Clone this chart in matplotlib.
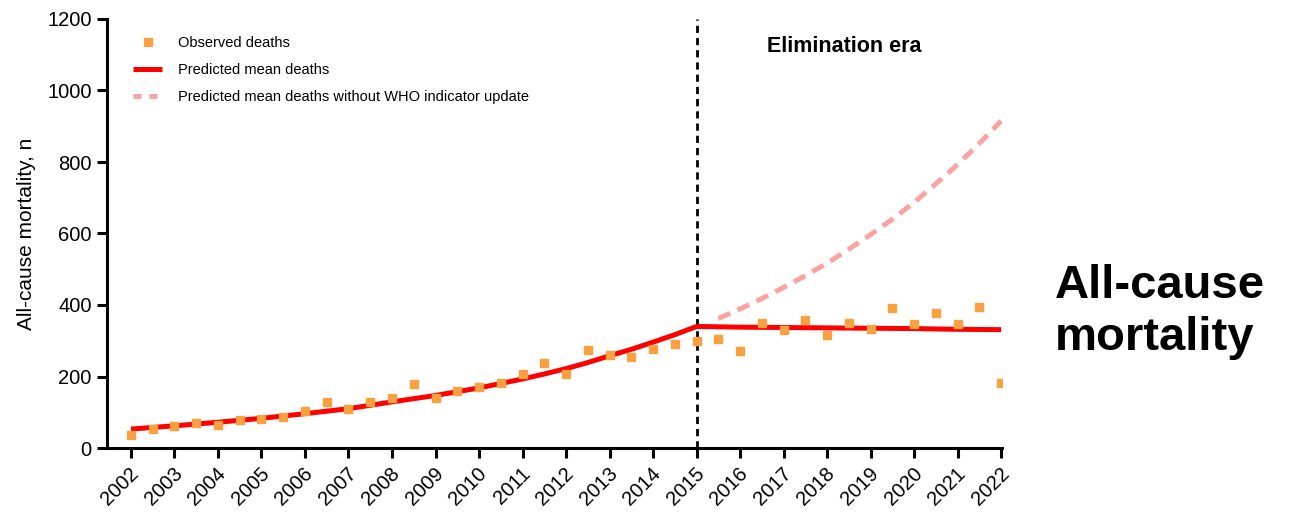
import numpy as np
import matplotlib
matplotlib.use("Agg")
import matplotlib.pyplot as plt
import matplotlib.transforms as mtransforms
from matplotlib.lines import Line2D

plt.rcParams['font.family'] = ['Liberation Sans', 'DejaVu Sans']

# observed deaths, half-yearly 2002.0 .. 2022.0
obs_years = np.arange(2002, 2022.5, 0.5)
observed = [36, 54, 62, 70, 65, 78, 80, 88, 104, 128,
            110, 128, 141, 179, 140, 160, 171, 183, 208, 239,
            208, 273, 260, 255, 277, 292, 300, 305, 270, 351,
            331, 358, 315, 350, 332, 391, 348, 378, 348, 394,
            181]

# predicted mean deaths before / after the 2015 break
pre_years = [2002, 2003, 2004, 2005, 2006, 2007, 2008, 2009, 2010,
             2011, 2011.5, 2012, 2012.5, 2013, 2013.5, 2014, 2014.5, 2015]
pred_pre = [53, 62, 72, 83, 96, 110, 129, 147, 168,
            193, 207, 222, 239, 258, 276, 296, 317, 340]
post_years = list(range(2015, 2023))
pred_post = [340, 338, 337, 336, 335, 334, 332, 331]

# prediction without the WHO indicator update
nowho_years = [2015.5, 2016, 2016.5, 2017, 2017.5, 2018, 2018.5,
               2019, 2019.5, 2020, 2020.5, 2021, 2021.5, 2022]
pred_nowho = [362, 389, 418, 449, 482, 517, 556, 597, 640, 687, 739, 793, 852, 915]

year_ticks = list(range(2002, 2023))
y_ticks = [0, 200, 400, 600, 800, 1000, 1200]

ORANGE = '#F9A040'
RED = '#FF0000'
PINK = '#F9A3A3'

fig = plt.figure(figsize=(12.97, 5.18), dpi=100)
ax = fig.add_axes([107 / 1297, 1 - 448 / 518, 895 / 1297, 429 / 518])

ax.axvline(2015, color='black', lw=2, ls=(0, (2.6, 1.8)), zorder=2)
ax.plot(pre_years, pred_pre, color=RED, lw=3.6, solid_capstyle='butt', zorder=3)
ax.plot(post_years, pred_post, color=RED, lw=3.6, solid_capstyle='butt', zorder=3)
ax.plot(nowho_years, pred_nowho, color=PINK, lw=3.6, ls=(0, (2.6, 1.6)), zorder=3)
ax.plot(obs_years, observed, ls='none', marker='s', ms=5.5, color=ORANGE,
        mec=ORANGE, zorder=4)

ax.set_xlim(2001.45, 2022.02)
ax.set_ylim(0, 1200)
ax.set_xticks(year_ticks)
ax.set_xticklabels([str(y) for y in year_ticks], rotation=45, ha='right',
                   va='center', rotation_mode='anchor')
ax.set_yticks(y_ticks)
ax.tick_params(axis='both', labelsize=14.5, width=2.2, length=7, direction='out',
               color='black', pad=4)
ax.tick_params(axis='x', pad=9)
# nudge rotated year labels so their ends sit under the ticks
shift = mtransforms.ScaledTranslation(0.05, 0, fig.dpi_scale_trans)
for lbl in ax.get_xticklabels():
    lbl.set_transform(lbl.get_transform() + shift)
for side in ('top', 'right'):
    ax.spines[side].set_visible(False)
for side in ('left', 'bottom'):
    ax.spines[side].set_linewidth(2.2)

ax.set_ylabel('All-cause mortality, n', fontsize=15, labelpad=8)

ax.text(2018.4, 1122, 'Elimination era', fontsize=15.5, fontweight='bold',
        ha='center', va='center')

handles = [
    Line2D([], [], ls='none', marker='s', ms=5.5, color=ORANGE),
    Line2D([], [], color=RED, lw=3.6, solid_capstyle='butt'),
    Line2D([], [], color=PINK, lw=3.6, ls=(0, (1.6, 1.6)), dash_capstyle='butt'),
]
labels = ['Observed deaths', 'Predicted mean deaths',
          'Predicted mean deaths without WHO indicator update']
ax.legend(handles, labels, loc='upper left', bbox_to_anchor=(0.029, 0.96),
          frameon=False, fontsize=10.5, handlelength=2.0, handletextpad=1.1,
          labelspacing=0.9, borderpad=0, borderaxespad=0)

fig.text(1055 / 1297, 1 - 312 / 518, 'All-cause\nmortality', fontsize=34,
         fontweight='bold', ha='left', va='center', linespacing=1.25)

fig.savefig('out.png', dpi=100)
